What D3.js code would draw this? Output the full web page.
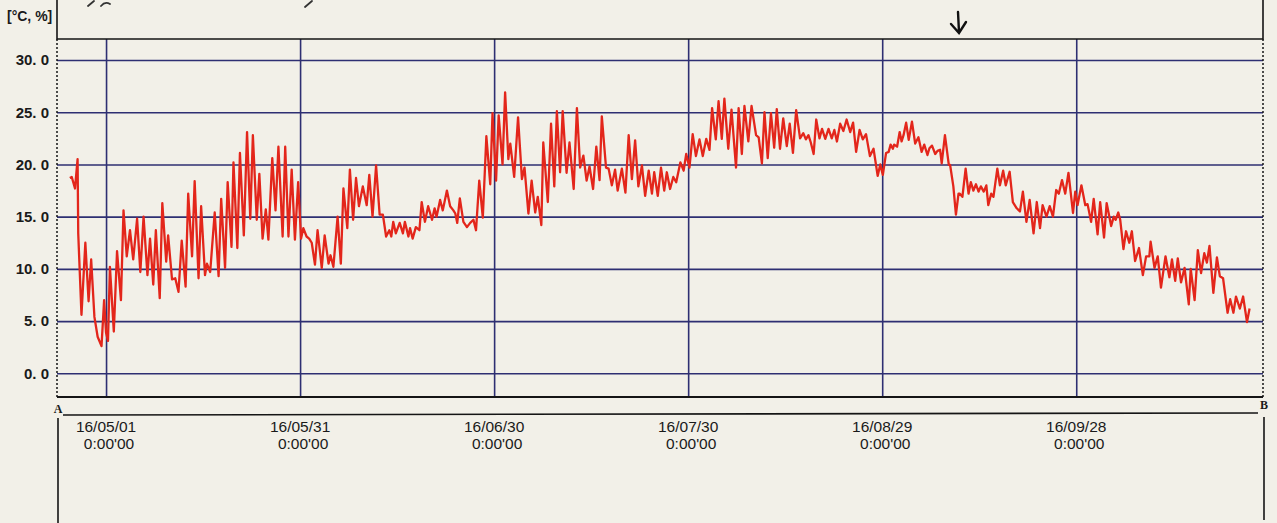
<html>
<head>
    <meta charset="utf-8">
    <title>Temperature record 16/05 - 16/10</title>
    <style>
        html, body { margin: 0; padding: 0; background: #f2f0e8; }
        svg { display: block; }
        .grid line { stroke: #2e2f72; stroke-width: 1.6; }
        .grid path { display: none; }
        .grid text { fill: #1a1a1a; font: bold 15px "Liberation Sans", Arial, sans-serif; }
        .frame { stroke: #151515; fill: none; }
        .tick-label { fill: #1a1a1a; font: 15.5px "Liberation Sans", Arial, sans-serif; }
        .trace { fill: none; stroke: #e3261b; stroke-width: 2.3; stroke-linejoin: round; }
    </style>
    <script src="https://cdn.jsdelivr.net/npm/d3@7/dist/d3.min.js"></script>
</head>
<body>
<div id="chart"></div>
<script>
    // y axis ticks [°C, %]
    var yTicks = [0, 5, 10, 15, 20, 25, 30];

    // x axis ticks (one every 30 days)
    var xTickDates = ['16/05/01', '16/05/31', '16/06/30', '16/07/30', '16/08/29', '16/09/28'];
    var xTickTime = "0:00'00";

    // readings: [days since 16/05/01 0:00, temperature]
    var readings = [
        [-5.6, 18.7], [-5.3, 18.8], [-4.8, 17.7], [-4.4, 20.5], [-4.3, 13.4], [-3.8, 5.6],
        [-3.2, 12.5], [-2.7, 6.9], [-2.3, 10.9], [-1.8, 5.4], [-1.3, 3.5], [-0.7, 2.6],
        [-0.3, 7.0], [0.0, 3.9], [0.3, 3.1], [0.6, 10.2], [1.2, 4.0], [1.7, 11.7],
        [2.3, 7.0], [2.7, 15.6], [3.2, 11.2], [3.7, 13.7], [4.2, 10.9], [4.8, 14.8],
        [5.3, 9.7], [5.8, 15.0], [6.4, 9.4], [6.8, 12.9], [7.3, 8.5], [7.7, 13.7],
        [8.3, 7.2], [8.7, 16.3], [9.3, 10.7], [9.6, 13.2], [10.2, 9.0], [10.7, 9.1],
        [11.2, 7.8], [11.7, 12.7], [12.3, 8.3], [12.7, 17.2], [13.3, 11.2], [13.7, 18.4],
        [14.3, 9.1], [14.7, 16.0], [15.3, 9.4], [15.6, 10.5], [16.1, 9.7], [16.8, 15.4],
        [17.4, 9.3], [17.8, 16.7], [18.4, 10.1], [18.8, 18.3], [19.4, 12.1], [19.7, 20.2],
        [20.3, 12.0], [20.7, 21.1], [21.3, 13.2], [21.8, 23.1], [22.3, 14.8], [22.7, 22.8],
        [23.3, 14.7], [23.7, 19.1], [24.2, 12.9], [24.7, 15.7], [25.1, 12.8], [25.7, 20.6],
        [26.2, 15.6], [26.65, 21.7], [27.3, 13.1], [27.7, 21.7], [28.2, 13.1], [28.7, 19.5],
        [29.2, 12.8], [29.7, 18.3], [30.15, 12.9], [30.5, 13.9], [31.0, 13.1], [31.4, 12.9],
        [31.8, 12.5], [32.3, 10.4], [32.7, 13.7], [33.35, 10.1], [33.8, 13.2], [34.4, 10.5],
        [34.7, 11.3], [35.15, 10.2], [35.8, 15.0], [36.3, 10.5], [36.7, 17.7], [37.3, 13.9],
        [37.7, 19.5], [38.2, 14.7], [38.65, 18.7], [39.1, 16.0], [39.7, 17.9], [40.3, 16.1],
        [40.7, 19.0], [41.2, 15.0], [41.75, 19.9], [42.3, 15.2], [42.8, 15.2], [43.3, 13.1],
        [43.8, 13.7], [44.1, 13.1], [44.4, 14.5], [44.8, 13.4], [45.4, 14.4], [45.9, 13.4],
        [46.2, 14.5], [46.75, 13.1], [47.0, 13.9], [47.4, 12.9], [47.9, 14.0], [48.45, 13.7],
        [48.8, 16.4], [49.3, 14.5], [49.8, 16.0], [50.4, 14.7], [50.8, 15.8], [51.1, 15.0],
        [51.65, 16.6], [52.06, 15.6], [52.7, 17.5], [53.2, 16.0], [53.7, 15.6], [54.0, 15.3],
        [54.3, 14.4], [54.7, 16.75], [55.25, 14.5], [55.8, 14.0], [56.3, 14.4], [56.8, 14.7],
        [57.2, 13.7], [57.7, 18.45], [58.25, 14.9], [58.8, 22.7], [59.4, 18.1], [59.75, 24.9],
        [60.3, 18.45], [60.7, 24.7], [61.3, 20.0], [61.7, 26.9], [62.2, 20.5], [62.5, 22.0],
        [63.1, 18.8], [63.7, 24.5], [64.3, 18.6], [64.7, 19.7], [65.3, 15.3], [65.8, 18.45],
        [66.35, 15.4], [66.75, 16.9], [67.3, 14.2], [67.6, 22.1], [68.3, 16.4], [68.8, 23.9],
        [69.3, 17.9], [69.7, 25.1], [70.2, 19.25], [70.6, 25.1], [71.2, 19.2], [71.65, 22.1],
        [72.3, 17.65], [72.8, 25.4], [73.3, 19.7], [73.8, 20.85], [74.3, 18.45], [74.75, 19.8],
        [75.3, 17.65], [75.8, 21.7], [76.3, 18.5], [76.65, 24.6], [77.3, 19.7], [77.7, 19.6],
        [78.2, 18.0], [78.7, 19.5], [79.1, 17.5], [79.75, 19.6], [80.3, 17.3], [80.8, 22.8],
        [81.3, 18.6], [81.8, 22.3], [82.3, 17.9], [82.85, 19.9], [83.35, 17.0], [83.9, 19.4],
        [84.4, 17.2], [84.75, 19.25], [85.3, 17.0], [85.8, 19.7], [86.3, 17.5], [86.7, 19.25],
        [87.2, 17.65], [87.7, 18.8], [88.15, 18.3], [88.8, 20.2], [89.3, 19.4], [89.7, 21.0],
        [90.2, 19.7], [90.7, 22.9], [91.2, 20.8], [91.75, 22.4], [92.26, 20.8], [92.8, 22.45],
        [93.3, 21.4], [93.7, 25.4], [94.27, 22.4], [94.7, 26.05], [95.2, 22.45], [95.6, 26.3],
        [96.2, 21.5], [96.7, 25.25], [97.4, 19.7], [97.8, 25.4], [98.3, 21.0], [98.7, 25.6],
        [99.3, 22.2], [99.8, 25.6], [100.5, 22.8], [100.9, 22.6], [101.4, 20.1], [101.8, 25.0],
        [102.3, 20.6], [102.8, 24.9], [103.3, 21.6], [103.7, 25.3], [104.2, 21.5], [104.7, 24.4],
        [105.25, 21.75], [105.7, 23.9], [106.2, 21.1], [106.7, 25.2], [107.3, 22.5], [107.8, 23.0],
        [108.2, 22.4], [108.6, 22.8], [108.96, 22.1], [109.4, 21.0], [109.8, 24.3], [110.3, 22.5],
        [110.7, 23.4], [111.2, 22.45], [111.7, 23.4], [112.2, 22.5], [112.6, 23.3], [113.0, 22.2],
        [113.5, 23.9], [114.0, 23.2], [114.5, 24.3], [115.05, 23.1], [115.5, 24.0], [115.97, 21.2],
        [116.5, 23.3], [117.0, 22.4], [117.5, 22.9], [118.1, 20.8], [118.66, 21.5], [119.3, 18.9],
        [119.7, 20.0], [120.1, 19.0], [120.6, 21.1], [121.0, 21.2], [121.3, 21.9], [121.65, 21.5],
        [121.85, 21.9], [122.3, 21.7], [122.7, 23.1], [123.0, 22.2], [123.3, 22.8], [123.7, 24.0],
        [124.1, 22.35], [124.6, 24.1], [125.1, 22.0], [125.6, 22.6], [126.1, 21.2], [126.5, 21.9],
        [127.0, 20.9], [127.3, 21.55], [127.7, 21.8], [128.2, 21.0], [128.55, 21.3], [128.95, 21.4],
        [129.2, 20.1], [129.7, 22.8], [130.3, 19.95], [130.5, 19.95], [131.0, 17.9], [131.4, 15.2],
        [131.8, 17.2], [132.0, 17.2], [132.4, 16.9], [132.9, 19.6], [133.35, 17.2], [133.7, 18.3],
        [134.1, 17.5], [134.5, 18.1], [134.9, 17.4], [135.25, 17.9], [135.7, 17.4], [136.1, 18.0],
        [136.4, 16.1], [136.85, 17.2], [137.2, 16.9], [137.8, 19.6], [138.2, 18.0], [138.7, 19.4],
        [139.1, 18.0], [139.7, 19.3], [140.2, 16.4], [140.8, 15.8], [141.3, 15.5], [141.75, 17.4],
        [142.3, 14.5], [142.8, 16.6], [143.4, 13.4], [143.9, 16.4], [144.4, 13.9], [144.8, 16.1],
        [145.4, 15.0], [145.9, 16.0], [146.4, 15.0], [146.9, 17.55], [147.3, 17.2], [147.8, 18.5],
        [148.3, 17.2], [148.8, 19.2], [149.5, 15.35], [149.85, 17.4], [150.2, 16.1], [150.8, 18.0],
        [151.4, 16.1], [151.75, 16.2], [152.3, 14.5], [152.7, 16.7], [153.3, 13.3], [153.7, 16.4],
        [154.3, 13.0], [154.7, 16.3], [155.4, 14.1], [155.8, 15.0], [156.1, 14.7], [156.5, 15.4],
        [156.8, 14.7], [157.3, 11.9], [157.7, 13.6], [158.2, 12.5], [158.6, 13.6], [159.1, 10.75],
        [159.7, 12.0], [160.3, 9.4], [160.8, 11.2], [161.3, 11.2], [161.5, 12.6], [162.1, 10.1],
        [162.6, 11.2], [163.1, 8.2], [163.8, 11.2], [164.4, 9.2], [164.8, 10.9], [165.3, 8.85],
        [165.7, 11.0], [166.2, 8.7], [166.75, 10.1], [167.4, 6.6], [167.7, 10.0], [168.3, 7.0],
        [168.8, 11.8], [169.3, 9.6], [169.8, 11.5], [170.2, 10.6], [170.6, 12.2], [171.2, 7.7],
        [171.75, 11.1], [172.2, 9.3], [172.7, 9.1], [173.4, 5.8], [173.8, 7.1], [174.3, 5.8],
        [174.7, 7.35], [175.3, 6.2], [175.8, 7.35], [176.4, 4.9], [176.8, 6.2]
    ];

    var width = 1277, height = 523;
    var plotLeft = 57, plotRight = 1263, plotTop = 39, plotBottom = 397;

    var parseTick = d3.utcParse('%y/%m/%d');
    var origin = parseTick('16/05/01');
    function dayToDate(d) { return new Date(origin.getTime() + d * 864e5); }

    var x = d3.scaleUtc()
            .domain([new Date(Date.UTC(2016, 3, 23, 10)), new Date(Date.UTC(2016, 9, 26, 21))])
            .range([plotLeft, plotRight]);

    var y = d3.scaleLinear()
            .domain([0, 30])
            .range([373.3, 60]);

    var svg = d3.select('#chart')
            .append('svg')
            .attr('width', width)
            .attr('height', height);

    // horizontal grid + value labels
    svg.append('g')
            .attr('class', 'grid')
            .attr('transform', 'translate(' + plotLeft + ',0)')
            .call(d3.axisLeft(y)
                .tickValues(yTicks)
                .tickSize(-(plotRight - plotLeft))
                .tickPadding(8)
                .tickFormat(function(d) { return d3.format('.1f')(d).replace('.', '. '); }));

    // vertical grid
    svg.append('g')
            .attr('class', 'grid')
            .attr('transform', 'translate(0,' + plotBottom + ')')
            .call(d3.axisBottom(x)
                .tickValues(xTickDates.map(parseTick))
                .tickSize(-(plotBottom - plotTop))
                .tickFormat(''));

    // frame
    svg.append('path')
            .attr('class', 'frame')
            .attr('stroke-width', 1.6)
            .attr('d', 'M' + plotLeft + ',0V' + plotTop + 'H' + plotRight + 'V0');
    svg.append('line')
            .attr('class', 'frame')
            .attr('stroke-width', 1.8)
            .attr('x1', plotLeft).attr('x2', plotRight)
            .attr('y1', plotBottom).attr('y2', plotBottom);
    svg.selectAll('.side')
            .data([plotLeft, plotRight])
            .enter().append('line')
            .attr('class', 'frame side')
            .attr('stroke-width', 1.5)
            .attr('stroke-dasharray', '2,2')
            .attr('x1', function(d) { return d; }).attr('x2', function(d) { return d; })
            .attr('y1', plotTop).attr('y2', plotBottom);

    // A - B line and lower box
    svg.append('line')
            .attr('class', 'frame')
            .attr('stroke-width', 1.6)
            .attr('x1', 63).attr('x2', 1258)
            .attr('y1', 415).attr('y2', 413);
    svg.append('line')
            .attr('class', 'frame')
            .attr('stroke-width', 1.6)
            .attr('x1', 58).attr('x2', 58)
            .attr('y1', 418).attr('y2', height);
    svg.append('line')
            .attr('class', 'frame')
            .attr('stroke-width', 1.6)
            .attr('x1', 1264).attr('x2', 1264)
            .attr('y1', 417).attr('y2', 520);

    svg.append('text')
            .attr('x', 58).attr('y', 413)
            .attr('text-anchor', 'middle')
            .style('font', 'bold 12px "Liberation Serif", serif')
            .style('fill', '#1a1a1a')
            .text('A');
    svg.append('text')
            .attr('x', 1264).attr('y', 409)
            .attr('text-anchor', 'middle')
            .style('font', 'bold 12px "Liberation Serif", serif')
            .style('fill', '#1a1a1a')
            .text('B');

    // unit label
    svg.append('text')
            .attr('x', 7).attr('y', 21)
            .style('font', 'bold 14px "Liberation Sans", Arial, sans-serif')
            .style('fill', '#1a1a1a')
            .text('[°C, %]');

    // date labels
    var labels = svg.selectAll('.tick-label')
            .data(xTickDates)
            .enter().append('text')
            .attr('class', 'tick-label')
            .attr('text-anchor', 'middle')
            .attr('transform', function(d) { return 'translate(' + x(parseTick(d)) + ',0)'; });
    labels.append('tspan')
            .attr('x', 0).attr('y', 432)
            .text(function(d) { return d; });
    labels.append('tspan')
            .attr('x', 3).attr('y', 449)
            .text(xTickTime);

    // hand marks on the paper
    svg.append('path')
            .attr('fill', 'none')
            .attr('stroke', '#111')
            .attr('stroke-width', 2.4)
            .attr('stroke-linecap', 'round')
            .attr('d', 'M958,12 L959,32 M951,24 L959,33 L966,22');
    svg.append('path')
            .attr('fill', 'none')
            .attr('stroke', '#333')
            .attr('stroke-width', 1.8)
            .attr('stroke-linecap', 'round')
            .attr('d', 'M88,6 L94,1 M101,6 Q105,1 110,4 M305,7 L312,1');

    // temperature trace
    var line = d3.line()
            .x(function(d) { return x(dayToDate(d[0])); })
            .y(function(d) { return y(d[1]); });

    svg.append('path')
            .datum(readings)
            .attr('class', 'trace')
            .attr('d', line);
</script>
</body>
</html>
